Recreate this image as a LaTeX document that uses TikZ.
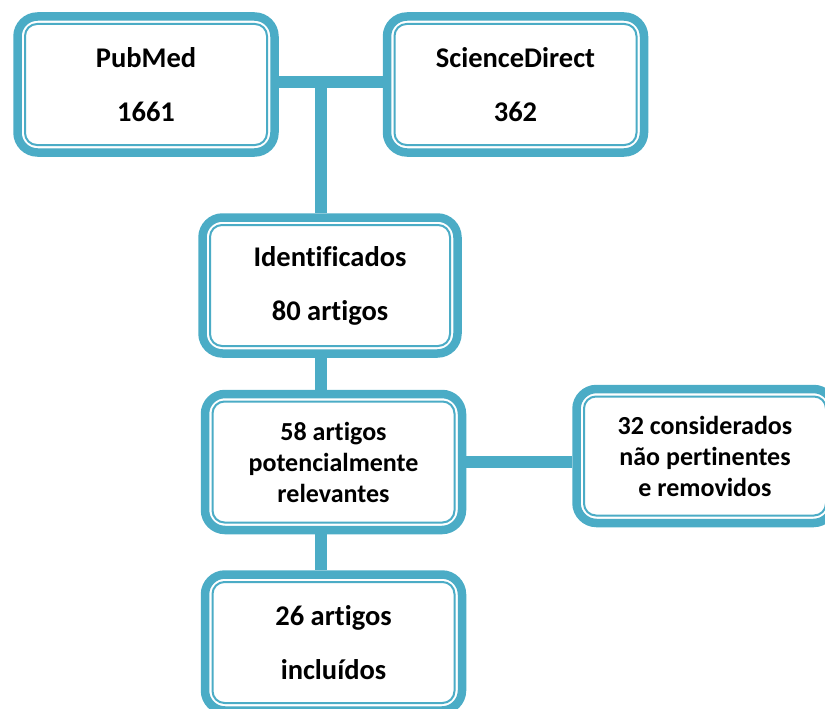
\documentclass[tikz,border=0pt]{standalone}
\usepackage{fontspec}
\setmainfont[Ligatures=NoCommon]{Carlito}
\usetikzlibrary{positioning,calc}

\definecolor{framecol}{HTML}{4BACC6}

\tikzset{
  stagebox/.style={draw=framecol, fill=white, line width=8.5pt, rounded corners=20pt,
    minimum width=257pt, minimum height=136pt, align=center,
    font=\fontsize{28.5}{54}\selectfont\bfseries},
  smallbox/.style={stagebox, font=\fontsize{26}{31}\selectfont\bfseries},
  innerframe/.style={draw=framecol, line width=2pt, rounded corners=12pt},
  link/.style={draw=framecol, line width=12pt}
}

% thin frame inside the thick one (anchors sit on the outer edge)
\newcommand{\innerline}[1]{%
  \draw[innerframe] ($(#1.south west)+(11.75pt,11.75pt)$) rectangle ($(#1.north east)+(-11.75pt,-11.75pt)$);}

\begin{document}
\begin{tikzpicture}[x=1pt, y=-1pt]
    \clip (0,0) rectangle (825,709);
    \useasboundingbox (0,0) rectangle (825,709);

    % Define nodes
    \node[stagebox]		(pubmed)	at (146,84.5)	{PubMed\\1661};
    \node[stagebox, right = 104pt of pubmed]		(sciencedirect)		{ScienceDirect\\362};
    \node[stagebox, minimum width=255pt]		(ident)	at (330,285.5)	{Identificados\\80 artigos};
    \node[smallbox, below = 32pt of ident, xshift=3.5pt]		(relevant)		{58 artigos\\potencialmente\\relevantes};
    \node[smallbox, right = 106pt of relevant, yshift=6pt, minimum height=134pt]		(removed)		{32 considerados\\não pertinentes\\e removidos};
    \node[stagebox, below = 36pt of relevant]		(included)		{26 artigos\\incluídos};

    % inner frames
    \foreach \n in {pubmed,sciencedirect,ident,relevant,removed,included}
      {\innerline{\n}}

    % Connect nodes
    \coordinate (junction) at ($(pubmed.east)!0.41!(sciencedirect.west)+(0pt,2pt)$);
    \draw[link] (pubmed.east |- junction) -- (sciencedirect.west |- junction);
    \draw[link] (junction) -- (junction |- ident.north);
    \draw[link] (junction |- ident.south) -- (junction |- relevant.north);
    \draw[link] (relevant.east) -- (relevant.east -| removed.west);
    \draw[link] (junction |- relevant.south) -- (junction |- included.north);
\end{tikzpicture}
\end{document}
